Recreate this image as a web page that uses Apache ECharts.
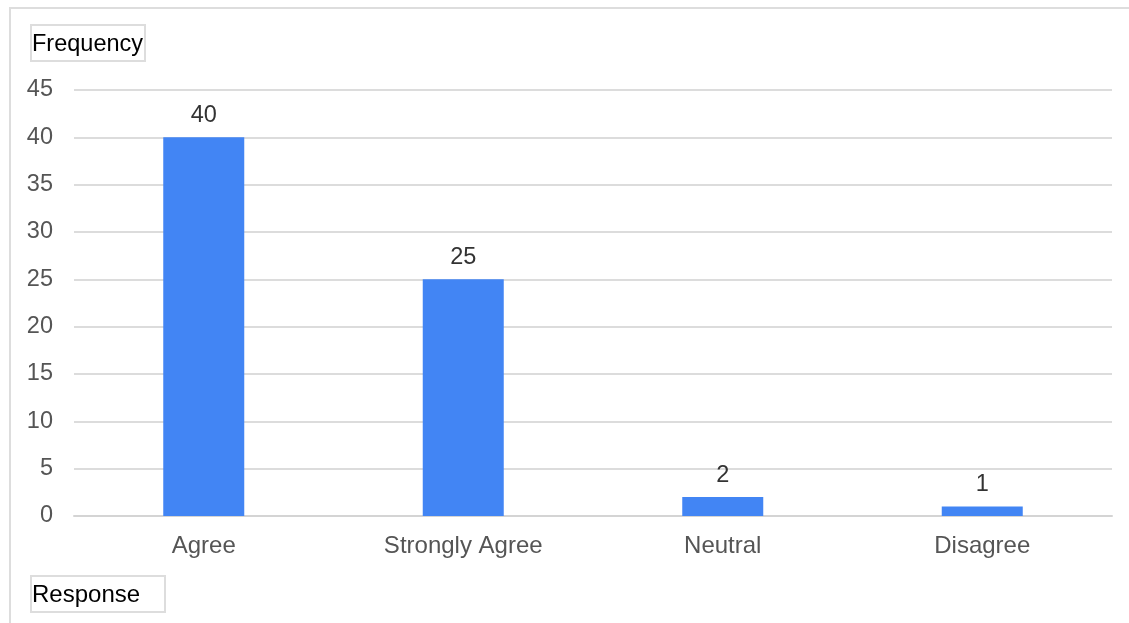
<!DOCTYPE html>
<html>
<head>
<meta charset="utf-8">
<script src="https://cdn.jsdelivr.net/npm/echarts@6/dist/echarts.min.js"></script>
<style>
html,body{margin:0;padding:0;background:#fff;}
#chart{width:1129px;height:623px;}
</style>
</head>
<body>
<div id="chart"></div>
<script>
const categories = ['Agree', 'Strongly Agree', 'Neutral', 'Disagree'];
const frequencies = [40, 25, 2, 1];
const yAxisTitle = 'Frequency';
const xAxisTitle = 'Response';

const FONT = 'Arial, "Liberation Sans", sans-serif';
const chart = echarts.init(document.getElementById('chart'));
chart.setOption({
  animation: false,
  backgroundColor: '#ffffff',
  grid: { left: 74, right: 17, top: 90, bottom: 107, containLabel: false },
  xAxis: {
    type: 'category',
    data: categories,
    axisLine: { show: true, lineStyle: { color: '#d4d4d4', width: 2 } },
    axisTick: { show: false },
    axisLabel: { color: '#555555', fontSize: 24, fontFamily: FONT, margin: 18 }
  },
  yAxis: {
    type: 'value',
    min: 0,
    max: 45,
    interval: 5,
    axisLine: { show: false },
    axisTick: { show: false },
    axisLabel: { color: '#555555', fontSize: 23.5, fontFamily: FONT, margin: 21, padding: [4, 0, 0, 0] },
    splitLine: { lineStyle: { color: '#dcdcdc', width: 2 } }
  },
  series: [{
    type: 'bar',
    data: frequencies,
    barWidth: 81,
    itemStyle: { color: '#4285F4' },
    label: { show: true, position: 'top', distance: 10, color: '#333333', fontSize: 23.5, fontFamily: FONT }
  }],
  graphic: [
    { type: 'rect', shape: { x: 10, y: 8, width: 1200, height: 700 }, style: { fill: 'none', stroke: '#dddddd', lineWidth: 2 }, silent: true },
    { type: 'rect', shape: { x: 31, y: 25, width: 114, height: 36 }, style: { fill: '#ffffff', stroke: '#dddddd', lineWidth: 2 } },
    { type: 'text', x: 32, y: 44.5, style: { text: yAxisTitle, fill: '#000000', font: '23.5px ' + FONT, textVerticalAlign: 'middle' } },
    { type: 'rect', shape: { x: 31, y: 576, width: 134, height: 36 }, style: { fill: '#ffffff', stroke: '#dddddd', lineWidth: 2 } },
    { type: 'text', x: 32, y: 595.5, style: { text: xAxisTitle, fill: '#000000', font: '24px ' + FONT, textVerticalAlign: 'middle' } }
  ]
});
</script>
</body>
</html>
